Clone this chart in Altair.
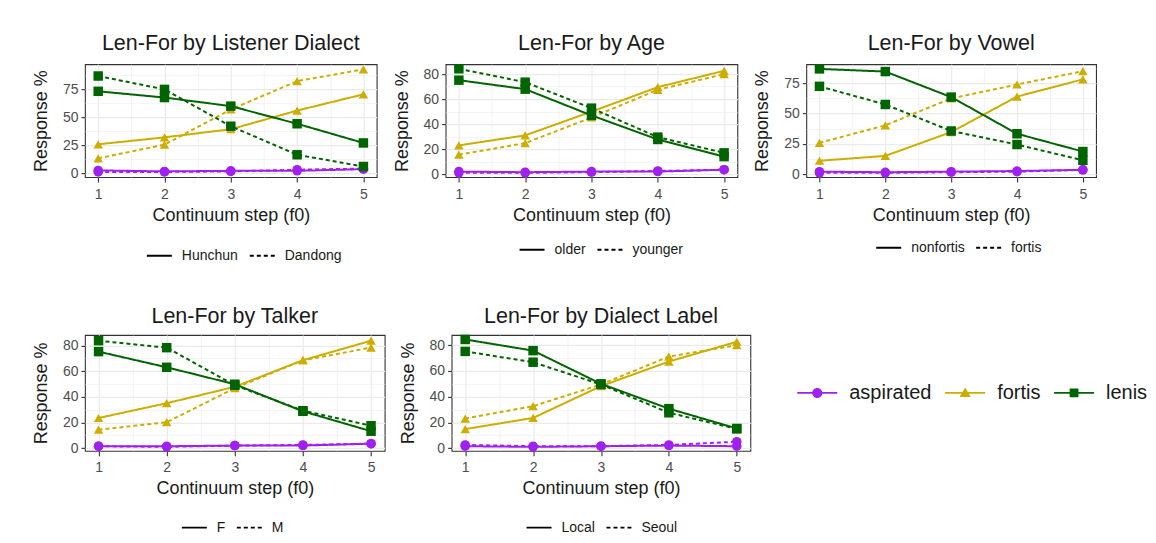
import altair as alt
import pandas as pd

steps = [1, 2, 3, 4, 5]
consonants = ["aspirated", "fortis", "lenis"]
cons_colors = ["#A020F0", "#CDAD00", "#006400"]
cons_shapes = ["circle", "triangle-up", "square"]

titles = ["Len-For by Listener Dialect", "Len-For by Age", "Len-For by Vowel",
          "Len-For by Talker", "Len-For by Dialect Label"]
groups = [["Hunchun", "Dandong"], ["older", "younger"], ["nonfortis", "fortis"],
          ["F", "M"], ["Local", "Seoul"]]

# Panel 1: Listener Dialect (Hunchun / Dandong)
p1_aspirated_a = [2.4, 1.5, 2.0, 2.0, 3.5]
p1_aspirated_b = [1.0, 1.0, 1.5, 3.0, 4.0]
p1_fortis_a = [25.8, 32.0, 39.3, 56.0, 70.6]
p1_fortis_b = [13.2, 25.5, 57.0, 82.4, 93.0]
p1_lenis_a = [73.3, 67.7, 60.0, 44.2, 27.0]
p1_lenis_b = [87.0, 75.0, 42.0, 16.4, 5.9]

# Panel 2: Age (older / younger)
p2_aspirated_a = [2.0, 1.5, 2.0, 2.0, 3.5]
p2_aspirated_b = [1.0, 1.0, 1.5, 2.5, 3.5]
p2_fortis_a = [23.0, 31.0, 50.0, 69.6, 82.7]
p2_fortis_b = [15.5, 24.8, 45.3, 67.5, 80.0]
p2_lenis_a = [75.2, 68.0, 47.0, 27.7, 14.0]
p2_lenis_b = [84.3, 73.6, 52.8, 29.6, 17.0]

# Panel 3: Vowel (nonfortis / fortis)
p3_aspirated_a = [2.0, 1.5, 2.0, 2.5, 3.5]
p3_aspirated_b = [1.0, 1.0, 1.5, 2.0, 3.5]
p3_fortis_a = [11.0, 15.0, 34.7, 64.0, 78.3]
p3_fortis_b = [25.8, 40.3, 62.5, 74.0, 85.0]
p3_lenis_a = [86.9, 84.7, 63.6, 33.3, 18.6]
p3_lenis_b = [72.5, 57.5, 35.6, 24.4, 11.4]

# Panel 4: Talker (F / M)
p4_aspirated_a = [1.5, 1.5, 2.0, 2.0, 3.5]
p4_aspirated_b = [1.5, 1.0, 2.0, 2.5, 3.5]
p4_fortis_a = [23.5, 35.0, 47.8, 68.5, 83.7]
p4_fortis_b = [14.4, 20.2, 46.7, 68.5, 78.3]
p4_lenis_a = [75.2, 63.0, 49.8, 28.7, 13.2]
p4_lenis_b = [83.7, 78.3, 49.0, 29.2, 17.5]

# Panel 5: Dialect Label (Local / Seoul)
p5_aspirated_a = [1.5, 1.0, 1.5, 2.0, 1.5]
p5_aspirated_b = [2.5, 1.5, 1.5, 2.5, 5.0]
p5_fortis_a = [14.8, 23.5, 48.2, 67.3, 82.7]
p5_fortis_b = [23.0, 32.6, 49.5, 71.2, 80.0]
p5_lenis_a = [84.5, 75.8, 50.0, 30.7, 15.3]
p5_lenis_b = [75.2, 66.8, 49.5, 27.5, 15.0]

panel_series = [
    [p1_aspirated_a, p1_aspirated_b, p1_fortis_a, p1_fortis_b, p1_lenis_a, p1_lenis_b],
    [p2_aspirated_a, p2_aspirated_b, p2_fortis_a, p2_fortis_b, p2_lenis_a, p2_lenis_b],
    [p3_aspirated_a, p3_aspirated_b, p3_fortis_a, p3_fortis_b, p3_lenis_a, p3_lenis_b],
    [p4_aspirated_a, p4_aspirated_b, p4_fortis_a, p4_fortis_b, p4_lenis_a, p4_lenis_b],
    [p5_aspirated_a, p5_aspirated_b, p5_fortis_a, p5_fortis_b, p5_lenis_a, p5_lenis_b],
]

y_domains = [[-3.6, 97.6], [-2.4, 88.0], [-2.5, 90.8], [-2.1, 88.2], [-2.1, 88.0]]
y_major = [25, 20, 25, 20, 20]
panel_sizes = [(292, 113), (292, 113), (290, 113), (300, 116), (299, 116)]
dash_legend_pos = [(61, 178), (73, 172), (69, 170), (96, 179), (74, 179)]
title_offsets = [10, 10, 10, 7, 7]

FONT = "Liberation Sans"

# legend glyphs: a short line with the marker on it (ggplot style key)
LINE_PATH = "M-1,-0.045 H1 V0.045 H-1 Z "
legend_glyphs = [
    LINE_PATH + "M-0.25,0 A0.25,0.25 0 1,1 0.25,0 A0.25,0.25 0 1,1 -0.25,0 Z",
    LINE_PATH + "M0,-0.27 L0.28,0.2 L-0.28,0.2 Z",
    LINE_PATH + "M-0.22,-0.22 H0.22 V0.22 H-0.22 Z",
]

cons_legend = alt.Legend(
    orient="none", legendX=713, legendY=309, direction="horizontal",
    title=None, labelFontSize=20, labelColor="#1A1A1A", labelFont=FONT,
    symbolSize=1600, symbolOpacity=1, symbolStrokeWidth=0,
    labelOffset=12, columnPadding=13,
)


def y_axis(step):
    return alt.Axis(
        values=[v * step / 2 for v in range(0, 10)],
        labelExpr=f"datum.value % {step} == 0 ? datum.label : ''",
        tickOpacity={"condition": {"test": f"datum.value % {step} != 0", "value": 0}, "value": 1},
        gridWidth={"condition": {"test": f"datum.value % {step} != 0", "value": 0.6}, "value": 1.2},
        titlePadding=12, labelPadding=3, tickSize=4,
    )


x_axis = alt.Axis(
    values=[1, 1.5, 2, 2.5, 3, 3.5, 4, 4.5, 5],
    labelExpr="datum.value % 1 == 0 ? format(datum.value, 'd') : ''",
    tickOpacity={"condition": {"test": "datum.value % 1 != 0", "value": 0}, "value": 1},
    gridWidth={"condition": {"test": "datum.value % 1 != 0", "value": 0.6}, "value": 1.2},
    titlePadding=5, labelPadding=5, tickSize=5, labelAngle=0,
)


def panel(i):
    rows = []
    names = [(c, g) for c in consonants for g in groups[i]]
    for (c, g), vals in zip(names, panel_series[i]):
        for s, v in zip(steps, vals):
            rows.append({"consonant": c, "group": g, "step": s, "value": v})
    df = pd.DataFrame(rows)
    w, h = panel_sizes[i]
    lx, ly = dash_legend_pos[i]
    base = alt.Chart(df).encode(
        x=alt.X("step:Q", title="Continuum step (f0)",
                scale=alt.Scale(domain=[0.8, 5.2], nice=False, zero=False), axis=x_axis),
        y=alt.Y("value:Q", title="Response %",
                scale=alt.Scale(domain=y_domains[i], nice=False, zero=False),
                axis=y_axis(y_major[i])),
        color=alt.Color("consonant:N", scale=alt.Scale(domain=consonants, range=cons_colors),
                        legend=cons_legend),
    )
    lines = base.mark_line(strokeWidth=2).encode(
        strokeDash=alt.StrokeDash(
            "group:N", sort=groups[i],
            scale=alt.Scale(domain=groups[i], range=[[1, 0], [4, 3]]),
            legend=alt.Legend(orient="none", legendX=lx, legendY=ly, direction="horizontal",
                              title=None, symbolType="stroke", symbolSize=625,
                              symbolStrokeColor="#000000", symbolStrokeWidth=1.8,
                              labelFontSize=14, labelColor="#1A1A1A", labelFont=FONT,
                              labelOffset=9, columnPadding=7),
        ),
        detail="group:N",
    )
    pt_layers = [
        base.transform_filter(alt.datum.consonant == c).mark_point(
            shape=shp, filled=True, size=90, opacity=1)
        for c, shp in zip(consonants, cons_shapes)
    ]
    key = base.mark_point(filled=True, size=80, opacity=0).encode(
        shape=alt.Shape("consonant:N", scale=alt.Scale(domain=consonants, range=legend_glyphs),
                        legend=cons_legend),
    )
    return alt.layer(lines, *pt_layers, key).properties(
        width=w, height=h,
        title=alt.TitleParams(titles[i], frame="group", anchor="middle", offset=title_offsets[i]),
    )


top = alt.hconcat(panel(0), panel(1), panel(2), spacing=14).resolve_scale(
    strokeDash="independent").resolve_legend(strokeDash="independent")
bottom = alt.hconcat(panel(3), panel(4), spacing=12).resolve_scale(
    strokeDash="independent").resolve_legend(strokeDash="independent")

chart = alt.vconcat(top, bottom, spacing=41).resolve_scale(
    strokeDash="independent").resolve_legend(strokeDash="independent").properties(
    padding={"left": 23, "top": 23, "right": 0, "bottom": 0}
).configure_view(
    stroke="#333333", strokeWidth=1.1
).configure_axis(
    domain=False, tickColor="#333333", tickWidth=1.1,
    labelColor="#4D4D4D", labelFontSize=14, labelFont=FONT,
    titleFontSize=18, titleColor="#1A1A1A", titleFontWeight="normal", titleFont=FONT,
    gridColor="#EBEBEB",
).configure_title(
    fontSize=21.5, font=FONT, fontWeight="normal", color="#1A1A1A"
).configure_legend(
    labelFont=FONT
)

chart.save("out.html", embed_options={"renderer": "svg", "actions": False})
